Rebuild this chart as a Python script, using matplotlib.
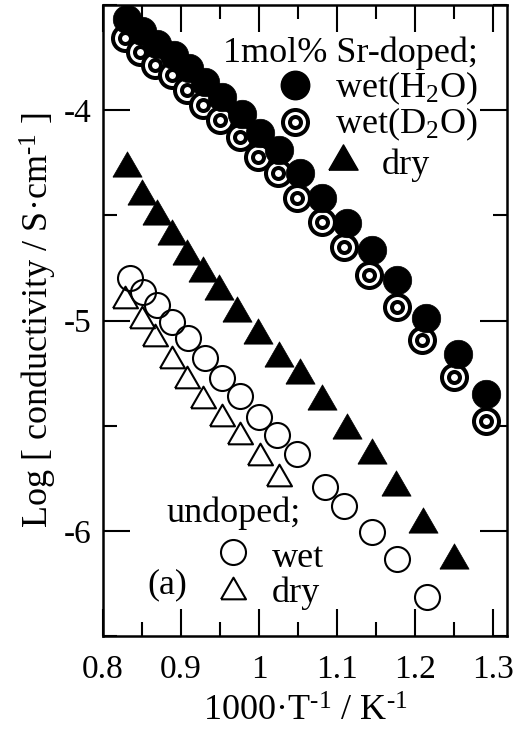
import numpy as np
import matplotlib
matplotlib.use("Agg")
import matplotlib.pyplot as plt
from matplotlib.ticker import MultipleLocator, FuncFormatter

plt.rcParams['font.family'] = ['Liberation Serif', 'DejaVu Serif']
plt.rcParams['mathtext.fontset'] = 'custom'
plt.rcParams['mathtext.rm'] = 'Liberation Serif'
plt.rcParams['mathtext.default'] = 'regular'
plt.rcParams['axes.unicode_minus'] = False

# 1mol% Sr-doped, wet (H2O)
x_sr_h2o = [0.831, 0.850, 0.869, 0.891, 0.910, 0.930, 0.952, 0.978, 1.001,
            1.026, 1.052, 1.081, 1.113, 1.144, 1.176, 1.214, 1.254, 1.290]
y_sr_h2o = [-3.564, -3.625, -3.687, -3.739, -3.801, -3.867, -3.938, -4.019, -4.109,
            -4.190, -4.299, -4.417, -4.536, -4.664, -4.806, -4.987, -5.157, -5.347]

# 1mol% Sr-doped, wet (D2O)
x_sr_d2o = [0.828, 0.847, 0.866, 0.888, 0.907, 0.928, 0.950, 0.975, 0.998,
            1.024, 1.049, 1.080, 1.109, 1.141, 1.177, 1.209, 1.250, 1.291]
y_sr_d2o = [-3.658, -3.725, -3.787, -3.834, -3.905, -3.976, -4.047, -4.128, -4.223,
            -4.299, -4.417, -4.531, -4.650, -4.783, -4.935, -5.091, -5.267, -5.475]

# 1mol% Sr-doped, dry
x_sr_dry = [0.831, 0.850, 0.869, 0.888, 0.907, 0.928, 0.949, 0.971, 0.998,
            1.026, 1.052, 1.081, 1.112, 1.144, 1.175, 1.210, 1.250]
y_sr_dry = [-4.256, -4.389, -4.484, -4.579, -4.674, -4.754, -4.840, -4.944, -5.048,
            -5.157, -5.238, -5.361, -5.499, -5.622, -5.774, -5.950, -6.120]

# undoped, wet
x_un_wet = [0.834, 0.851, 0.869, 0.888, 0.909, 0.930, 0.953, 0.976, 1.000,
            1.023, 1.049, 1.084, 1.109, 1.144, 1.177, 1.215]
y_un_wet = [-4.797, -4.863, -4.925, -5.006, -5.082, -5.176, -5.271, -5.357, -5.456,
            -5.546, -5.632, -5.793, -5.883, -6.007, -6.135, -6.315]

# undoped, dry
x_un_dry = [0.828, 0.850, 0.866, 0.888, 0.907, 0.928, 0.953, 0.975, 1.001, 1.026]
y_un_dry = [-4.887, -4.982, -5.067, -5.172, -5.267, -5.361, -5.447, -5.532, -5.632, -5.736]

# equilateral triangle marker
tri = [(-1, -0.866), (1, -0.866), (0, 0.866), (-1, -0.866)]


def ring(ax, x, y, z, **kw):
    # double ring symbol: outer ring, white gap, inner ring, white centre
    ax.plot(x, y, 'o', ms=18, mfc='white', mec='black', mew=2.9, zorder=z, **kw)
    ax.plot(x, y, 'o', ms=7.9, mfc='white', mec='black', mew=2.9, zorder=z + 0.5, **kw)


fig = plt.figure(figsize=(5.15, 7.32), dpi=100)
ax = fig.add_axes([0.2, 0.131, 0.784, 0.862])

for i, (xx, yy) in enumerate(zip(x_sr_d2o, y_sr_d2o)):
    ring(ax, xx, yy, 3 + i)
ax.plot(x_sr_h2o, y_sr_h2o, 'o', ms=20.5, mfc='black', mec='black', mew=0.5, zorder=40)
ax.plot(x_sr_dry, y_sr_dry, ls='none', marker=tri, ms=21, mfc='black', mec='black',
        mew=0.5, zorder=40)
ax.plot(x_un_wet, y_un_wet, 'o', ms=18, mfc='none', mec='black', mew=1.5, zorder=41)
ax.plot(x_un_dry, y_un_dry, ls='none', marker=tri, ms=18, mfc='none', mec='black',
        mew=1.5, zorder=41)

ax.set_xlim(0.8, 1.317)
ax.set_ylim(-6.5, -3.5)
ax.xaxis.set_major_locator(MultipleLocator(0.1))
ax.xaxis.set_minor_locator(MultipleLocator(0.05))
ax.yaxis.set_major_locator(MultipleLocator(1))
ax.yaxis.set_minor_locator(MultipleLocator(0.5))
ax.xaxis.set_major_formatter(FuncFormatter(lambda v, p: '%g' % round(v, 2)))
ax.yaxis.set_major_formatter(FuncFormatter(lambda v, p: '%g' % round(v, 2)))
ax.tick_params(which='both', direction='in', top=True, right=True, width=1.5)
ax.tick_params(which='major', length=19.5, labelsize=24)
ax.tick_params(axis='x', which='major', pad=13)
ax.tick_params(axis='y', which='major', pad=8)
ax.tick_params(which='minor', length=10)
for s in ax.spines.values():
    s.set_linewidth(1.8)

ax.set_xlabel(r'1000·T$^{\text{-}1}$ / K$^{\text{-}1}$', fontsize=26)
ax.set_ylabel(r'Log [ conductivity / S·cm$^{\text{-}1}$ ]', fontsize=26)
ax.yaxis.set_label_coords(-0.11, 0.5)
ax.xaxis.set_label_coords(0.5, -0.095)

# key drawn inside the frame
tr = ax.transAxes
ax.text(0.297, 0.910, '1mol% Sr-doped;', transform=tr, fontsize=26, va='baseline')
ax.plot(0.475, 0.873, 'o', ms=20.5, mfc='black', mec='black', transform=tr, clip_on=False)
ax.text(0.574, 0.854, 'wet(H$_2$O)', transform=tr, fontsize=26, va='baseline')
ring(ax, 0.475, 0.815, 60, transform=tr, clip_on=False)
ax.text(0.574, 0.797, 'wet(D$_2$O)', transform=tr, fontsize=26, va='baseline')
ax.plot(0.594, 0.759, ls='none', marker=tri, ms=21, mfc='black', mec='black',
        transform=tr, clip_on=False)
ax.text(0.691, 0.732, 'dry', transform=tr, fontsize=26, va='baseline')

ax.text(0.158, 0.181, 'undoped;', transform=tr, fontsize=26, va='baseline')
ax.plot(0.322, 0.133, 'o', ms=18, mfc='none', mec='black', mew=1.5, transform=tr)
ax.text(0.418, 0.109, 'wet', transform=tr, fontsize=26, va='baseline')
ax.plot(0.322, 0.076, ls='none', marker=tri, ms=18, mfc='none', mec='black', mew=1.5,
        transform=tr)
ax.text(0.418, 0.054, 'dry', transform=tr, fontsize=26, va='baseline')
ax.text(0.111, 0.068, '(a)', transform=tr, fontsize=26, va='baseline')

fig.savefig('out.png', dpi=100)
